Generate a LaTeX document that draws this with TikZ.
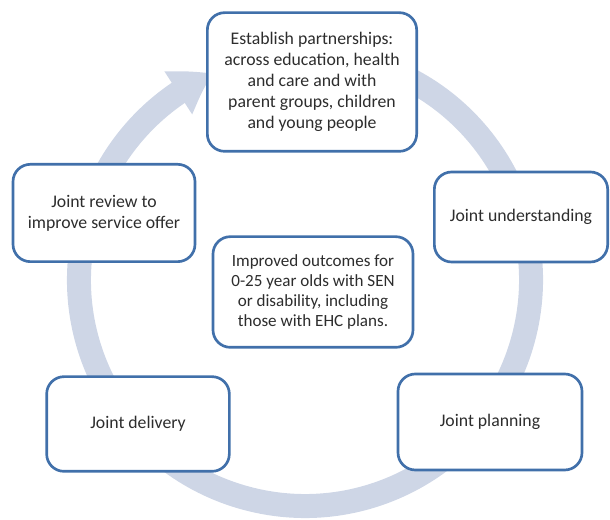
\documentclass[tikz,border=0pt]{standalone}
\usepackage{fontspec}
\setmainfont{Carlito}
\usepackage{tikz}
\usetikzlibrary{positioning,arrows.meta,bending}

\begin{document}
\begin{tikzpicture}[x=0.75pt,y=0.75pt]
	\definecolor{boxblue}{RGB}{65,112,170}
	\definecolor{ringblue}{RGB}{206,214,230}
	\definecolor{txtgrey}{RGB}{45,45,45}
	\tikzset{
		stage/.style={
			rectangle,
			rounded corners=13pt,
			draw=boxblue,
			fill=white,
			line width=2pt,
			align=center,
			text=txtgrey,
			inner sep=2pt,
			font=\fontsize{13.3}{15.8}\selectfont
		},
		cycle/.style={
			draw=ringblue,
			line width=18pt,
			-{Triangle[length=30pt,width=36pt,bend]}
		}
	}
	\useasboundingbox (0,0) rectangle (610,520);

	% ======= ring =======
	\draw[cycle] (305,240) ++(75:226) arc[start angle=75, end angle=-246, radius=226];

	% ======= stages =======
	\node[stage, minimum width=157pt, minimum height=104pt] (partner) at (312,438)
		{Establish partnerships:\\ across education, health\\ and care and with\\ parent groups, children\\ and young people};
	\node[stage, minimum width=130pt, minimum height=67.5pt] (understand) at (521,303) {Joint understanding};
	\node[stage, minimum width=138pt, minimum height=72pt] (plan) at (490,98) {Joint planning};
	\node[stage, minimum width=137pt, minimum height=71pt] (deliver) at (138,96) {Joint delivery};
	\node[stage, minimum width=136.5pt, minimum height=73pt] (review) at (104,307)
		{Joint review to\\ improve service offer};

	% ======= centre =======
	\node[stage, minimum width=150pt, minimum height=83pt,
		font=\fontsize{12.8}{15}\selectfont] (outcome) at (313,228)
		{Improved outcomes for\\ 0-25 year olds with SEN\\ or disability, including\\ those with EHC plans.};
\end{tikzpicture}
\end{document}
